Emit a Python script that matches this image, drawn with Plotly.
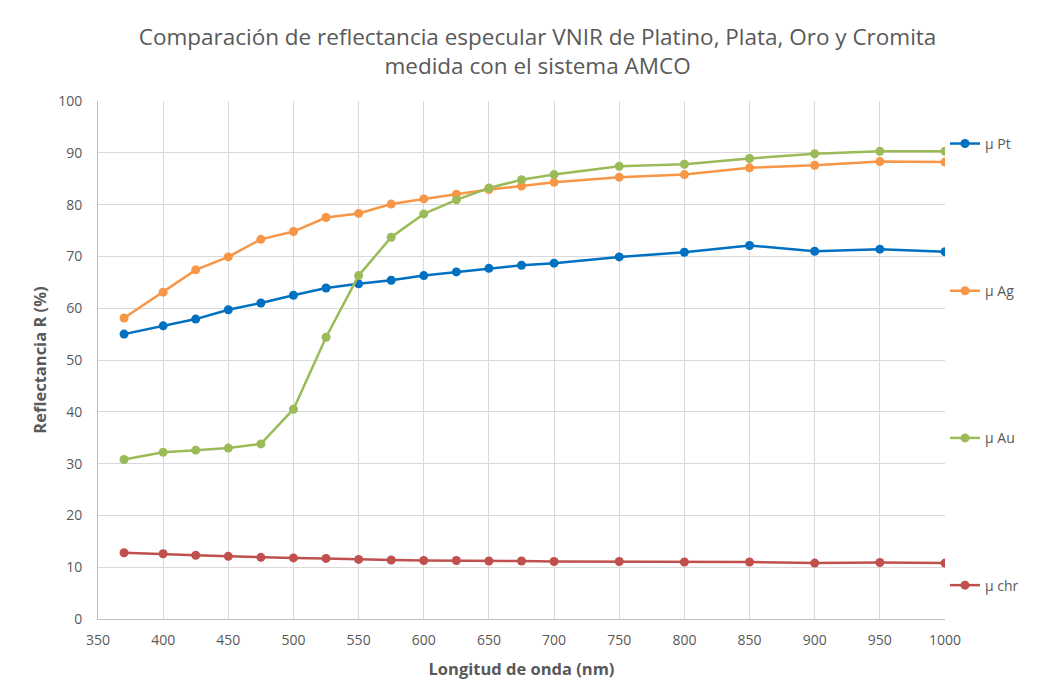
import plotly.graph_objects as go

wavelength = [370, 400, 425, 450, 475, 500, 525, 550, 575, 600, 625, 650, 675, 700, 750, 800, 850, 900, 950, 1000]
pt = [55.0, 56.6, 57.9, 59.7, 61.0, 62.5, 63.9, 64.7, 65.4, 66.3, 67.0, 67.7, 68.3, 68.7, 69.9, 70.8, 72.1, 71.0, 71.4, 70.9]
ag = [58.1, 63.1, 67.4, 69.9, 73.3, 74.8, 77.5, 78.3, 80.1, 81.1, 82.0, 82.9, 83.6, 84.3, 85.3, 85.8, 87.1, 87.6, 88.3, 88.2]
au = [30.8, 32.2, 32.6, 33.0, 33.8, 40.5, 54.4, 66.3, 73.7, 78.2, 80.9, 83.2, 84.8, 85.8, 87.4, 87.8, 88.9, 89.8, 90.3, 90.3]
chr_ = [12.8, 12.6, 12.3, 12.1, 11.9, 11.8, 11.7, 11.5, 11.4, 11.3, 11.3, 11.2, 11.2, 11.1, 11.1, 11.0, 11.0, 10.8, 10.9, 10.8]

names = ["μ Pt", "μ Ag", "μ Au", "μ chr"]
colors = ["#0070C0", "#F79646", "#9BBB59", "#C0504D"]
series = [pt, ag, au, chr_]

FONT = "Open Sans"
GREY = "#595959"

fig = go.Figure()
for i, (n, c, s) in enumerate(zip(names, colors, series)):
    fig.add_trace(go.Scatter(
        x=wavelength, y=s, name=n, mode="lines+markers",
        line=dict(color=c, width=2.5),
        marker=dict(color=c, size=9),
        legendgroup=str(i),
    ))

fig.update_layout(
    width=1054, height=695,
    paper_bgcolor="white", plot_bgcolor="white",
    margin=dict(l=98, r=109, t=101, b=76),
    font=dict(family=FONT, color=GREY, size=14),
    title=dict(
        text="Comparación de reflectancia especular VNIR de Platino, Plata, Oro y Cromita<br>medida con el sistema AMCO",
        x=0.51, xanchor="center", y=0.935, yanchor="top",
        font=dict(family=FONT, size=22.5, color=GREY),
    ),
    legend=dict(
        x=1.0, xanchor="left", y=0.948, yanchor="top",
        tracegroupgap=126, font=dict(size=14, color=GREY),
        bgcolor="rgba(0,0,0,0)", itemwidth=30,
    ),
    xaxis=dict(
        range=[350, 1000], dtick=50, tick0=350,
        showgrid=True, gridcolor="#D9D9D9", gridwidth=1,
        showline=True, linecolor="#BFBFBF", linewidth=1,
        ticks="", zeroline=False, ticklabelstandoff=8,
        title=dict(text="<b>Longitud de onda (nm)</b>", font=dict(size=16.5, color=GREY), standoff=15),
        tickfont=dict(size=14, color=GREY),
    ),
    yaxis=dict(
        range=[0, 100], dtick=10,
        showgrid=True, gridcolor="#D9D9D9", gridwidth=1,
        showline=True, linecolor="#BFBFBF", linewidth=1,
        ticks="", zeroline=False, ticklabelstandoff=12,
        title=dict(text="<b>Reflectancia R (%)</b>", font=dict(size=16.5, color=GREY), standoff=7),
        tickfont=dict(size=14, color=GREY),
    ),
)

fig.write_html("out.html", config={"displayModeBar": False},
               post_script="document.body.style.margin='0px';")
